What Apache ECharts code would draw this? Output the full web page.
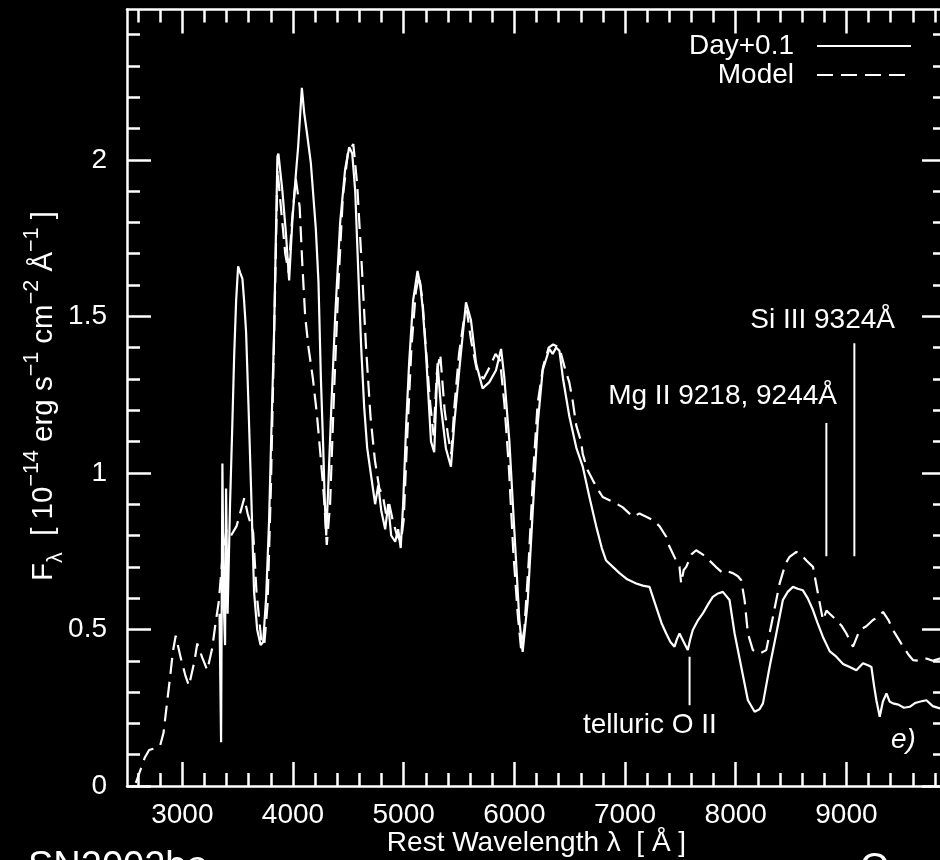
<!DOCTYPE html>
<html>
<head>
<meta charset="utf-8">
<title>Day+0.1 spectrum and model</title>
<script src="https://cdn.jsdelivr.net/npm/echarts@6/dist/echarts.min.js"></script>
<style>
  html, body { margin: 0; padding: 0; background: #000; overflow: hidden; }
  /* the frame's right edge sits just past the visible window */
  #chart { width: 950px; height: 860px; }
</style>
</head>
<body>
<div id="chart"></div>
<script>
// Synthetic model spectrum (dashed): rest wavelength [Å] and flux [1e-14 erg/s/cm2/Å]
const modelWave = [2580,2620,2660,2700,2750,2800,2830,2860,2890,2915,2940,2985,3030,3060,3110,3135,3180,3225,3270,3300,3330,3360,3400,3440,3490,3560,3590,3640,3670,3715,3740,3770,3800,3830,3860,3890,3930,3960,3990,4025,4060,4085,4110,4140,4180,4215,4245,4280,4305,4335,4370,4410,4450,4495,4545,4580,4620,4660,4700,4740,4780,4810,4840,4870,4900,4940,4975,5000,5030,5070,5110,5140,5170,5200,5240,5270,5300,5330,5370,5400,5430,5460,5500,5540,5570,5610,5660,5720,5780,5830,5870,5910,5950,5990,6030,6060,6090,6130,6170,6210,6260,6310,6350,6407,6460,6496,6527,6560,6603,6618,6660,6708,6750,6798,6859,6920,6980,7040,7070,7130,7191,7250,7311,7372,7402,7462,7492,7507,7530,7553,7600,7643,7700,7763,7820,7884,7930,7974,8020,8050,8080,8110,8155,8216,8276,8336,8397,8450,8487,8548,8600,8638,8698,8743,8788,8820,8849,8909,8960,9000,9060,9120,9180,9240,9290,9331,9380,9421,9470,9512,9560,9602,9660,9723,9780,9844,9898];
const modelFlux = [0.01,0.05,0.09,0.115,0.12,0.13,0.17,0.26,0.35,0.43,0.48,0.41,0.35,0.32,0.40,0.455,0.41,0.37,0.44,0.52,0.59,0.72,0.82,0.80,0.83,0.92,0.87,0.81,0.62,0.46,0.45,0.58,0.95,1.45,1.97,1.85,1.70,1.64,1.80,1.94,1.85,1.66,1.50,1.40,1.30,1.19,1.07,0.92,0.77,0.90,1.25,1.60,1.88,2.02,2.05,1.92,1.67,1.40,1.18,1.04,0.95,0.93,0.87,0.90,0.85,0.80,0.78,0.85,1.10,1.40,1.58,1.63,1.55,1.40,1.22,1.12,1.32,1.38,1.20,1.12,1.06,1.22,1.38,1.48,1.52,1.42,1.33,1.30,1.34,1.38,1.36,1.22,1.02,0.75,0.55,0.44,0.50,0.72,1.00,1.22,1.34,1.40,1.41,1.40,1.33,1.29,1.23,1.15,1.10,1.06,1.01,0.977,0.95,0.923,0.913,0.902,0.89,0.87,0.86,0.87,0.86,0.85,0.83,0.796,0.764,0.72,0.70,0.647,0.69,0.70,0.74,0.753,0.74,0.72,0.70,0.68,0.685,0.68,0.67,0.657,0.594,0.487,0.434,0.423,0.434,0.54,0.647,0.71,0.732,0.748,0.735,0.72,0.70,0.615,0.53,0.56,0.55,0.53,0.51,0.487,0.445,0.498,0.51,0.53,0.54,0.556,0.53,0.498,0.47,0.445,0.42,0.402,0.40,0.407,0.40,0.407,0.41];

// Observed spectrum, epoch "Day+0.1" (solid)
const obsWave = [3336,3350,3362,3373,3386,3395,3409,3431,3449,3468,3486,3504,3522,3543,3558,3576,3599,3621,3648,3676,3707,3730,3757,3784,3802,3829,3859,3868,3904,3935,3965,3995,4026,4046,4080,4101,4128,4161,4206,4230,4252,4273,4286,4300,4318,4345,4381,4426,4471,4508,4535,4562,4589,4616,4643,4670,4706,4742,4770,4797,4833,4860,4887,4923,4950,4973,4995,5022,5049,5085,5125,5150,5171,5201,5247,5276,5306,5337,5382,5427,5457,5502,5563,5608,5654,5713,5774,5834,5880,5909,5955,6000,6045,6075,6120,6165,6211,6256,6316,6346,6377,6407,6440,6497,6560,6618,6680,6739,6790,6829,6890,6950,7020,7101,7160,7221,7281,7330,7372,7410,7447,7470,7492,7530,7567,7590,7612,7660,7703,7750,7793,7840,7884,7944,7990,8050,8110,8171,8215,8246,8306,8367,8426,8470,8517,8560,8607,8650,8698,8740,8788,8850,8909,8970,9030,9090,9150,9200,9226,9250,9271,9301,9330,9362,9390,9421,9470,9520,9572,9620,9670,9723,9780,9844,9898];
const obsFlux = [0.55,0.14,1.03,0.60,0.45,0.95,0.55,0.90,1.12,1.37,1.55,1.66,1.64,1.62,1.55,1.45,1.20,0.95,0.62,0.50,0.45,0.46,0.60,0.85,1.10,1.45,2.01,2.02,1.90,1.77,1.615,1.81,1.955,2.04,2.23,2.15,2.08,1.99,1.78,1.61,1.30,1.08,0.92,0.80,0.95,1.20,1.50,1.80,1.97,2.04,2.02,1.90,1.65,1.40,1.21,1.08,0.99,0.90,0.96,0.88,0.82,0.90,0.80,0.78,0.82,0.76,0.90,1.15,1.35,1.55,1.645,1.60,1.53,1.385,1.10,1.066,1.35,1.21,1.077,1.02,1.157,1.328,1.545,1.487,1.35,1.27,1.29,1.328,1.396,1.305,1.10,0.815,0.53,0.428,0.587,0.871,1.157,1.328,1.396,1.38,1.40,1.39,1.30,1.18,1.08,1.02,0.92,0.83,0.76,0.72,0.70,0.68,0.66,0.647,0.64,0.636,0.572,0.52,0.487,0.46,0.445,0.47,0.487,0.46,0.434,0.47,0.498,0.53,0.551,0.58,0.604,0.615,0.62,0.594,0.487,0.38,0.274,0.237,0.245,0.264,0.38,0.487,0.594,0.62,0.636,0.63,0.625,0.60,0.562,0.52,0.476,0.43,0.413,0.39,0.38,0.37,0.392,0.385,0.38,0.32,0.274,0.221,0.27,0.296,0.27,0.264,0.26,0.25,0.253,0.265,0.27,0.274,0.255,0.248,0.26];

// Line identification markers: wavelength and the flux span of each vertical bar
const markerNames = ['Si III 9324Å', 'Mg II 9218, 9244Å', 'telluric O II'];
const markerWave = [9072, 8819, 7583];
const markerFluxLow = [0.734, 0.734, 0.258];
const markerFluxHigh = [1.414, 1.159, 0.413];

// Axis ranges and tick positions
const xRange = [2500, 9900];
const yRange = [0, 2.48];
const xMajorTicks = [3000, 4000, 5000, 6000, 7000, 8000, 9000];
const xMinorTicks = [2600, 2800, 3200, 3400, 3600, 3800, 4200, 4400, 4600, 4800, 5200, 5400, 5600, 5800, 6200, 6400, 6600, 6800, 7200, 7400, 7600, 7800, 8200, 8400, 8600, 8800, 9200, 9400, 9600, 9800];
const yMajorTicks = [0, 0.5, 1, 1.5, 2];
const yMinorTicks = [0.1, 0.2, 0.3, 0.4, 0.6, 0.7, 0.8, 0.9, 1.1, 1.2, 1.3, 1.4, 1.6, 1.7, 1.8, 1.9, 2.1, 2.2, 2.3, 2.4];

const FONT = "'Liberation Sans', Arial, sans-serif";
const WHITE = '#ffffff';

function zip(xs, ys) { return xs.map((x, i) => [x, ys[i]]); }

function xAxisDef(position, ticks, len, withLine, withLabel) {
  return {
    type: 'value', position: position, min: xRange[0], max: xRange[1],
    splitLine: { show: false },
    axisLine: { show: withLine, onZero: false, lineStyle: { color: WHITE, width: 2.5 } },
    axisTick: { show: true, inside: true, length: len, customValues: ticks, lineStyle: { color: WHITE, width: 2.5 } },
    axisLabel: { show: withLabel, customValues: ticks, color: WHITE, fontSize: 28, fontFamily: FONT, margin: 17, lineHeight: 24,
      formatter: v => String(v) }
  };
}
function yAxisDef(position, ticks, len, withLine, withLabel) {
  return {
    type: 'value', position: position, min: yRange[0], max: yRange[1],
    splitLine: { show: false },
    axisLine: { show: withLine, onZero: false, lineStyle: { color: WHITE, width: 2.5 } },
    axisTick: { show: true, inside: true, length: len, customValues: ticks, lineStyle: { color: WHITE, width: 2.5 } },
    axisLabel: { show: withLabel, customValues: ticks, color: WHITE, fontSize: 28, fontFamily: FONT, margin: 20,
      formatter: v => String(v) }
  };
}

const xAxes = [
  Object.assign(xAxisDef('bottom', xMajorTicks, 24, true, true), {
    name: 'Rest Wavelength λ  [ Å ]', nameLocation: 'middle', nameGap: 43, nameMoveOverlap: false,
    nameTextStyle: { color: WHITE, fontSize: 28, fontFamily: FONT, lineHeight: 28 }
  }),
  xAxisDef('bottom', xMinorTicks, 13, false, false),
  xAxisDef('top', xMajorTicks, 24, true, false),
  xAxisDef('top', xMinorTicks, 13, false, false)
];
const yAxes = [
  yAxisDef('left', yMajorTicks, 24, true, true),
  yAxisDef('left', yMinorTicks, 13, false, false),
  yAxisDef('right', yMajorTicks, 24, true, false),
  yAxisDef('right', yMinorTicks, 13, false, false)
];

const markerSeries = markerWave.map((w, i) => ({
  type: 'line', name: markerNames[i], silent: true, symbol: 'none',
  xAxisIndex: 0, yAxisIndex: 0,
  itemStyle: { color: WHITE },
  lineStyle: { color: WHITE, width: 2 },
  data: [[w, markerFluxLow[i]], [w, markerFluxHigh[i]]]
}));

const chart = echarts.init(document.getElementById('chart'), null, { renderer: 'canvas' });
chart.setOption({
  backgroundColor: '#000000',
  animation: false,
  grid: { left: 127, right: 4, top: 9.5, bottom: 74, containLabel: false, outerBoundsMode: 'none' },
  xAxis: xAxes,
  yAxis: yAxes,
  legend: {
    data: ['Day+0.1', 'Model'],
    orient: 'vertical', align: 'right', right: 38, top: 32, padding: 0,
    itemWidth: 94, itemHeight: 14, itemGap: 1,
    itemStyle: { opacity: 0 },
    textStyle: { color: WHITE, fontSize: 28, fontFamily: FONT, lineHeight: 28, padding: [0, 18, 0, 0] },
    selectedMode: false
  },
  series: [
    {
      type: 'line', name: 'Day+0.1', symbol: 'none', xAxisIndex: 0, yAxisIndex: 0, z: 3,
      itemStyle: { color: WHITE },
      lineStyle: { color: WHITE, width: 2.2 },
      data: zip(obsWave, obsFlux)
    },
    {
      type: 'line', name: 'Model', symbol: 'none', xAxisIndex: 0, yAxisIndex: 0, z: 2,
      itemStyle: { color: WHITE },
      lineStyle: { color: WHITE, width: 2.2, type: [16, 8] },
      data: zip(modelWave, modelFlux)
    }
  ].concat(markerSeries),
  graphic: [
    {
      type: 'text', x: 44, y: 396, rotation: Math.PI / 2,
      style: {
        text: '{m|F}{sb|λ}{m|  [ 10}{sp|−14}{m| erg s}{sp|−1}{m| cm}{sp|−2}{m| Å}{sp|−1}{m| ]}',
        align: 'center', verticalAlign: 'middle', fill: WHITE,
        rich: {
          m: { fontSize: 29.5, fontFamily: FONT, fill: WHITE, lineHeight: 46, verticalAlign: 'middle' },
          sp: { fontSize: 21.5, fontFamily: FONT, fill: WHITE, lineHeight: 21, verticalAlign: 'top' },
          sb: { fontSize: 21.5, fontFamily: FONT, fill: WHITE, lineHeight: 21, verticalAlign: 'bottom' }
        }
      }
    },
    { type: 'text', x: 895, y: 320, style: { text: markerNames[0], align: 'right', verticalAlign: 'middle', fill: WHITE, fontSize: 28, fontFamily: FONT } },
    { type: 'text', x: 837, y: 396, style: { text: markerNames[1], align: 'right', verticalAlign: 'middle', fill: WHITE, fontSize: 28, fontFamily: FONT } },
    { type: 'text', x: 583, y: 725, style: { text: markerNames[2], align: 'left', verticalAlign: 'middle', fill: WHITE, fontSize: 28, fontFamily: FONT } },
    { type: 'text', x: 891, y: 740, style: { text: 'e)', align: 'left', verticalAlign: 'middle', fill: WHITE, fontSize: 28, fontStyle: 'italic', fontFamily: FONT } },
    { type: 'text', x: 28, y: 849, style: { text: 'SN2002bo', align: 'left', verticalAlign: 'top', fill: WHITE, fontSize: 38, fontFamily: FONT } },
    { type: 'text', x: 860, y: 851, style: { text: 'O', align: 'left', verticalAlign: 'top', fill: WHITE, fontSize: 38, fontFamily: FONT } }
  ]
});
</script>
</body>
</html>
